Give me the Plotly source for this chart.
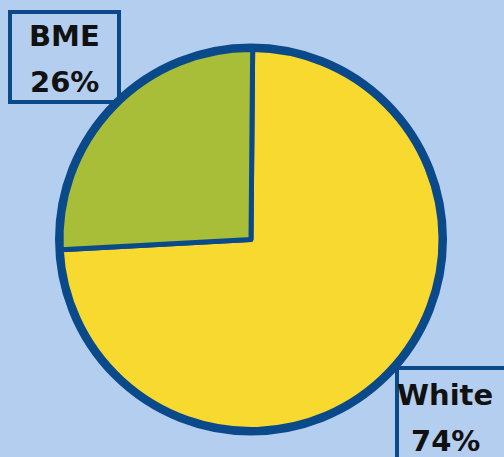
import plotly.graph_objects as go

# Ethnicity split
categories = ["White", "BME"]
shares = [74, 26]
slice_colors = ["#F7D92F", "#A8BE38"]

BG = "#B4CEEF"
EDGE = "#0B4A8A"
FONT = dict(family="DejaVu Sans", size=29, color="#111111", weight="bold")

W, H = 504, 457
pie_domain = dict(x=[61 / W, 441 / W], y=[1 - 430 / H, 1 - 49 / H])

fig = go.Figure()

# thick outer ring drawn underneath the main pie
fig.add_trace(go.Pie(
    values=[1], labels=[""], domain=pie_domain, sort=False,
    marker=dict(colors=[EDGE], line=dict(color=EDGE, width=12)),
    textinfo="none", hoverinfo="skip", showlegend=False,
))

fig.add_trace(go.Pie(
    labels=categories, values=shares, domain=pie_domain,
    sort=False, direction="clockwise", rotation=0.5,
    marker=dict(colors=slice_colors, line=dict(color=EDGE, width=5)),
    textinfo="none", hoverinfo="label+percent", showlegend=False,
))

# label boxes (paper px -> paper fraction)
def px(x):
    return x / W

def py(y):
    return 1 - y / H

boxes = {
    "BME": (10, 12, 119, 102),
    "White": (397, 368, 540, 480),
}
label_pos = {
    "BME": ((64, 36), (64, 82)),
    "White": ((445, 395), (445, 441)),
}

shapes = []
annotations = []
for cat, val in zip(categories, shares):
    x0, y0, x1, y1 = boxes[cat]
    shapes.append(dict(
        type="rect", xref="paper", yref="paper",
        x0=px(x0), x1=px(x1), y0=py(y1), y1=py(y0),
        line=dict(color=EDGE, width=4), fillcolor="rgba(0,0,0,0)",
    ))
    (tx1, ty1), (tx2, ty2) = label_pos[cat]
    annotations.append(dict(
        text=cat, x=px(tx1), y=py(ty1), xref="paper", yref="paper",
        xanchor="center", yanchor="middle", showarrow=False, font=FONT,
    ))
    annotations.append(dict(
        text=f"{val}%", x=px(tx2), y=py(ty2), xref="paper", yref="paper",
        xanchor="center", yanchor="middle", showarrow=False, font=FONT,
    ))

fig.update_layout(
    width=W, height=H,
    margin=dict(l=0, r=0, t=0, b=0),
    paper_bgcolor=BG, plot_bgcolor=BG,
    shapes=shapes, annotations=annotations,
)

fig.write_html("out.html")
